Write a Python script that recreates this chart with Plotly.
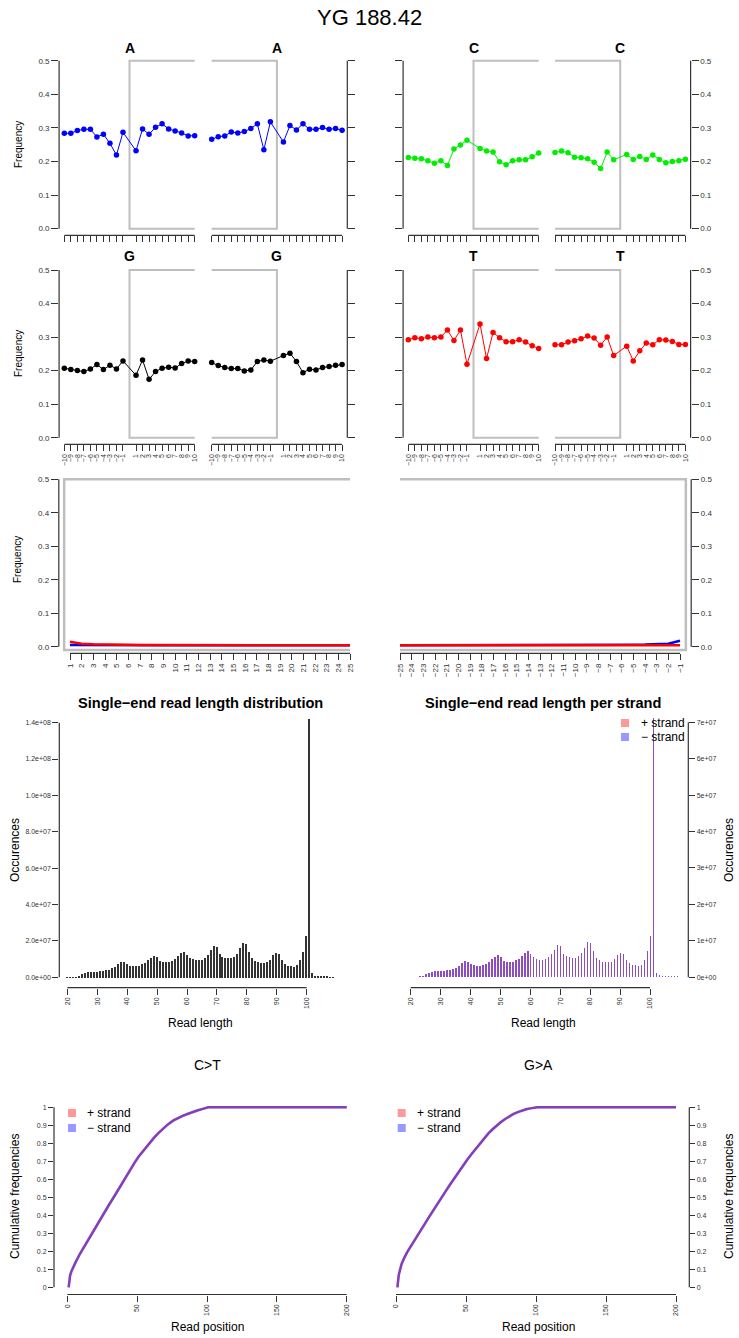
import plotly.graph_objects as go

W, H = 739, 1338
FONT = "Liberation Sans, Arial, Helvetica, sans-serif"
AX = "#333333"
BOXC = "#BEBEBE"

# ---------------- data ----------------
pos = [-10, -9, -8, -7, -6, -5, -4, -3, -2, -1, 1, 2, 3, 4, 5, 6, 7, 8, 9, 10]
pos_labels = ["−10", "−9", "−8", "−7", "−6", "−5", "−4", "−3", "−2", "−1",
              "1", "2", "3", "4", "5", "6", "7", "8", "9", "10"]

A_5p = [0.284, 0.284, 0.292, 0.296, 0.296, 0.273, 0.281, 0.254, 0.219, 0.287,
        0.232, 0.297, 0.281, 0.302, 0.312, 0.297, 0.291, 0.285, 0.276, 0.277]
A_3p = [0.266, 0.274, 0.276, 0.288, 0.285, 0.289, 0.298, 0.312, 0.235, 0.318,
        0.258, 0.307, 0.294, 0.312, 0.296, 0.296, 0.301, 0.296, 0.298, 0.293]
C_5p = [0.212, 0.210, 0.208, 0.202, 0.195, 0.202, 0.188, 0.237, 0.249, 0.263,
        0.239, 0.231, 0.228, 0.199, 0.190, 0.202, 0.205, 0.205, 0.214, 0.225]
C_3p = [0.227, 0.231, 0.226, 0.213, 0.211, 0.208, 0.198, 0.179, 0.228, 0.205,
        0.221, 0.206, 0.215, 0.206, 0.219, 0.206, 0.196, 0.200, 0.202, 0.207]
G_5p = [0.207, 0.203, 0.200, 0.197, 0.205, 0.218, 0.203, 0.216, 0.205, 0.229,
        0.186, 0.232, 0.174, 0.197, 0.207, 0.210, 0.208, 0.221, 0.229, 0.227]
G_3p = [0.224, 0.215, 0.209, 0.206, 0.206, 0.199, 0.202, 0.227, 0.232, 0.228,
        0.245, 0.252, 0.227, 0.194, 0.204, 0.202, 0.209, 0.212, 0.216, 0.218]
T_5p = [0.292, 0.298, 0.295, 0.300, 0.298, 0.300, 0.321, 0.290, 0.321, 0.219,
        0.339, 0.236, 0.314, 0.298, 0.286, 0.286, 0.292, 0.285, 0.274, 0.266]
T_3p = [0.277, 0.277, 0.285, 0.289, 0.295, 0.303, 0.297, 0.276, 0.300, 0.245,
        0.273, 0.229, 0.259, 0.282, 0.277, 0.292, 0.291, 0.287, 0.278, 0.278]

misinc_pos_5p = list(range(1, 26))
misinc_pos_3p = list(range(-25, 0))
misinc_lab_5p = [str(v) for v in misinc_pos_5p]
misinc_lab_3p = ["−" + str(-v) for v in misinc_pos_3p]
CT_5p = [0.015, 0.009, 0.007, 0.006, 0.006, 0.0055, 0.005, 0.005, 0.005, 0.0048,
         0.0046, 0.0045, 0.0044, 0.0044, 0.0043, 0.0043, 0.0042, 0.0042, 0.0042, 0.0041,
         0.0041, 0.0041, 0.004, 0.004, 0.004]
GA_5p = [0.005, 0.0046, 0.0044, 0.0043, 0.0042, 0.0042, 0.0041, 0.0041, 0.004, 0.004,
         0.004, 0.004, 0.004, 0.004, 0.004, 0.004, 0.004, 0.004, 0.004, 0.004,
         0.004, 0.004, 0.004, 0.004, 0.004]
CT_3p = [0.004, 0.004, 0.004, 0.004, 0.004, 0.004, 0.004, 0.004, 0.004, 0.004,
         0.004, 0.004, 0.004, 0.004, 0.004, 0.004, 0.004, 0.004, 0.004, 0.004,
         0.0041, 0.0041, 0.0042, 0.0042, 0.0043]
GA_3p = [0.004, 0.004, 0.004, 0.004, 0.004, 0.004, 0.004, 0.004, 0.004, 0.004,
         0.0042, 0.0043, 0.0044, 0.0045, 0.0045, 0.0047, 0.0049, 0.005, 0.0052, 0.0055,
         0.006, 0.0065, 0.0072, 0.009, 0.018]

read_len = list(range(20, 110))
# occurrences, in units of 1e7
len_total = [0.02, 0.02, 0.02, 0.03, 0.04, 0.18, 0.24, 0.29, 0.31, 0.33,
             0.33, 0.35, 0.37, 0.40, 0.44, 0.50, 0.60, 0.75, 0.88, 0.83,
             0.72, 0.64, 0.62, 0.62, 0.66, 0.72, 0.81, 0.97, 1.10, 1.21,
             1.12, 0.90, 0.84, 0.84, 0.84, 0.92, 1.00, 1.16, 1.34, 1.43,
             1.25, 1.10, 1.00, 0.95, 0.95, 0.99, 1.08, 1.25, 1.49, 1.74,
             1.69, 1.28, 1.14, 1.08, 1.06, 1.06, 1.14, 1.32, 1.61, 1.91,
             1.85, 1.41, 1.06, 0.92, 0.84, 0.81, 0.81, 0.84, 0.97, 1.23,
             1.34, 1.28, 0.95, 0.75, 0.66, 0.64, 0.59, 0.68, 0.95, 1.43,
             2.26, 14.2, 0.24, 0.11, 0.06, 0.05, 0.04, 0.04, 0.03, 0.03]
len_plus = [0.01, 0.01, 0.01, 0.015, 0.02, 0.09, 0.12, 0.145, 0.155, 0.165,
            0.165, 0.175, 0.185, 0.20, 0.22, 0.25, 0.30, 0.375, 0.44, 0.415,
            0.36, 0.32, 0.31, 0.31, 0.33, 0.36, 0.405, 0.485, 0.55, 0.605,
            0.56, 0.45, 0.42, 0.42, 0.42, 0.46, 0.50, 0.58, 0.67, 0.715,
            0.625, 0.55, 0.50, 0.475, 0.475, 0.495, 0.54, 0.625, 0.745, 0.87,
            0.845, 0.64, 0.57, 0.54, 0.53, 0.53, 0.57, 0.66, 0.805, 0.955,
            0.925, 0.705, 0.53, 0.46, 0.42, 0.405, 0.405, 0.42, 0.485, 0.615,
            0.67, 0.64, 0.475, 0.375, 0.33, 0.32, 0.295, 0.34, 0.475, 0.715,
            1.13, 7.1, 0.12, 0.055, 0.03, 0.025, 0.02, 0.02, 0.015, 0.015]
len_minus = [0.01, 0.01, 0.01, 0.015, 0.02, 0.09, 0.12, 0.14, 0.155, 0.16,
             0.165, 0.17, 0.185, 0.20, 0.215, 0.25, 0.30, 0.37, 0.44, 0.41,
             0.36, 0.32, 0.31, 0.31, 0.33, 0.36, 0.40, 0.48, 0.55, 0.60,
             0.56, 0.45, 0.42, 0.42, 0.42, 0.46, 0.50, 0.58, 0.67, 0.71,
             0.625, 0.55, 0.50, 0.475, 0.475, 0.495, 0.54, 0.62, 0.745, 0.865,
             0.845, 0.64, 0.57, 0.54, 0.53, 0.53, 0.57, 0.66, 0.80, 0.95,
             0.92, 0.705, 0.53, 0.46, 0.42, 0.405, 0.405, 0.42, 0.485, 0.61,
             0.67, 0.64, 0.475, 0.375, 0.33, 0.32, 0.295, 0.34, 0.475, 0.71,
             1.13, 7.1, 0.12, 0.055, 0.03, 0.025, 0.02, 0.02, 0.015, 0.015]

CT_cum_pos = [1, 2, 3, 4, 6, 9, 12, 16, 20, 23, 27, 30, 34, 37, 41, 44, 48, 51, 55, 58,
              62, 65, 69, 72, 76, 79, 83, 86, 90, 93, 97, 101, 200]
CT_cum = [0.0, 0.065, 0.09, 0.11, 0.14, 0.185, 0.225, 0.28, 0.33, 0.37, 0.42, 0.46,
          0.51, 0.55, 0.6, 0.64, 0.69, 0.725, 0.765, 0.795, 0.83, 0.855, 0.885, 0.905,
          0.927, 0.94, 0.954, 0.963, 0.975, 0.982, 0.991, 1.0, 1.0]
GA_cum_pos = [1, 2, 3, 4, 6, 8, 12, 15, 18, 21, 24, 27, 30, 33, 36, 39, 42, 45, 48, 51,
              54, 57, 60, 63, 66, 69, 72, 75, 78, 81, 84, 87, 90, 93, 96, 101, 200]
GA_cum = [0.0, 0.07, 0.1, 0.13, 0.165, 0.195, 0.245, 0.285, 0.32, 0.358, 0.395, 0.433,
          0.47, 0.505, 0.54, 0.575, 0.61, 0.645, 0.68, 0.71, 0.74, 0.77, 0.80, 0.828,
          0.855, 0.878, 0.9, 0.918, 0.935, 0.95, 0.963, 0.973, 0.982, 0.989, 0.994, 1.0, 1.0]

freq_ticks = [0, 0.1, 0.2, 0.3, 0.4, 0.5]
freq_ticktext = ["0.0", "0.1", "0.2", "0.3", "0.4", "0.5"]
len_ticks_left = [0, 2, 4, 6, 8, 10, 12, 14]
len_ticktext_left = ["0.0e+00", "2.0e+07", "4.0e+07", "6.0e+07", "8.0e+07",
                     "1.0e+08", "1.2e+08", "1.4e+08"]
len_ticks_right = [0, 1, 2, 3, 4, 5, 6, 7]
len_ticktext_right = ["0e+00", "1e+07", "2e+07", "3e+07", "4e+07", "5e+07", "6e+07", "7e+07"]
len_xticks = [20, 30, 40, 50, 60, 70, 80, 90, 100]
cum_yticks = [0, 0.1, 0.2, 0.3, 0.4, 0.5, 0.6, 0.7, 0.8, 0.9, 1.0]
cum_yticktext = ["0", "0.1", "0.2", "0.3", "0.4", "0.5", "0.6", "0.7", "0.8", "0.9", "1"]
cum_xticks = [0, 50, 100, 150, 200]

# ---------------- helpers ----------------
layout = dict(width=W, height=H, margin=dict(l=0, r=0, t=0, b=0),
              paper_bgcolor="white", plot_bgcolor="white", showlegend=False,
              barmode="overlay", bargap=0, font=dict(family=FONT, color="#000"))
shapes = []
annotations = []
traces = []


def px_x(p):
    return p / W


def px_y(p):
    return 1 - p / H


def base_axis(**kw):
    d = dict(showgrid=False, zeroline=False, showline=False, ticks="outside",
             ticklen=6, tickwidth=1, tickcolor=AX,
             tickfont=dict(size=8, color=AX, family=FONT), fixedrange=True)
    d.update(kw)
    return d


def add_panel(n, xpx, ypx, xr, yr, xopts, yopts):
    xid = "x" if n == 1 else f"x{n}"
    yid = "y" if n == 1 else f"y{n}"
    xa = base_axis(domain=[px_x(xpx[0]), px_x(xpx[1])], range=xr, anchor=yid)
    xa.update(xopts)
    ya = base_axis(domain=[px_y(ypx[1]), px_y(ypx[0])], range=yr, anchor=xid)
    ya.update(yopts)
    layout["xaxis" if n == 1 else f"xaxis{n}"] = xa
    layout["yaxis" if n == 1 else f"yaxis{n}"] = ya
    return xid, yid


def yline(xid, yid, side, y0, y1):
    shapes.append(dict(type="line", xref=f"{xid} domain", yref=yid, x0=side, x1=side,
                       y0=y0, y1=y1, line=dict(color=AX, width=1.2)))


def xline(xid, yid, x0, x1):
    shapes.append(dict(type="line", xref=xid, yref=f"{yid} domain", x0=x0, x1=x1,
                       y0=0, y1=0, line=dict(color=AX, width=1.2)))


def ann(xp, yp, text, size, angle=0, xanchor="center", color="#000"):
    annotations.append(dict(x=px_x(xp), y=px_y(yp), xref="paper", yref="paper",
                            text=text, showarrow=False, textangle=angle,
                            xanchor=xanchor, yanchor="middle",
                            font=dict(size=size, family=FONT, color=color)))


def legend_square(cx, cy, color, s=8):
    shapes.append(dict(type="rect", xref="paper", yref="paper",
                       x0=px_x(cx - s / 2), x1=px_x(cx + s / 2),
                       y0=px_y(cy + s / 2), y1=px_y(cy - s / 2),
                       fillcolor=color, line=dict(width=0)))


# ---------------- rows 1-2: base composition ----------------
sub_x = [(59.1, 199.9), (206.5, 347.3), (403.1, 543.9), (549.8, 690.6)]
row_y = [(54.0, 235.4), (263.3, 444.4)]
row_data = [[(A_5p, "#0000FF"), (A_3p, "#0000FF"), (C_5p, "#00EE00"), (C_3p, "#00EE00")],
            [(G_5p, "#000000"), (G_3p, "#000000"), (T_5p, "#FF0000"), (T_3p, "#FF0000")]]
row_titles = [["A", "A", "C", "C"], ["G", "G", "T", "T"]]

n = 0
for r in range(2):
    for k in range(4):
        n += 1
        side = "left" if k in (0, 2) else "right"
        show_y = (k == 0 or k == 3)
        xopts = dict(tickvals=pos, ticktext=pos_labels, showticklabels=(r == 1),
                     tickangle=-90, tickfont=dict(size=7, color=AX, family=FONT))
        yopts = dict(side=side, tickvals=freq_ticks, ticktext=freq_ticktext,
                     showticklabels=show_y, ticklen=7)
        xid, yid = add_panel(n, sub_x[k], row_y[r], [-10.8, 10.8], [-0.02, 0.52], xopts, yopts)
        vals, col = row_data[r][k]
        traces.append(go.Scatter(x=pos, y=vals, xaxis=xid, yaxis=yid, mode="lines+markers",
                                 line=dict(color=col, width=1),
                                 marker=dict(color=col, size=5.5, line=dict(width=0))))
        if k in (0, 2):
            path = "M 10,0.5 L 0,0.5 L 0,0 L 10,0"
        else:
            path = "M -10,0.5 L 0,0.5 L 0,0 L -10,0"
        shapes.append(dict(type="path", xref=xid, yref=yid, path=path,
                           line=dict(color=BOXC, width=2), layer="below"))
        yline(xid, yid, 0 if side == "left" else 1, 0, 0.5)
        xline(xid, yid, -10, 10)
        cx = (sub_x[k][0] + sub_x[k][1]) / 2
        ann(cx, [48, 256][r], "<b>" + row_titles[r][k] + "</b>", 14)

ann(18, 145, "Frequency", 10, angle=-90)
ann(18, 354, "Frequency", 10, angle=-90)

# ---------------- row 3: misincorporation ----------------
n += 1
xid, yid = add_panel(n, (58.8, 361.2), (472.6, 653.4), [0.04, 25.96], [-0.02, 0.52],
                     dict(tickvals=misinc_pos_5p, ticktext=misinc_lab_5p, tickangle=-90),
                     dict(side="left", tickvals=freq_ticks, ticktext=freq_ticktext, ticklen=7))
shapes.append(dict(type="path", xref=xid, yref=yid,
                   path="M 25,0.5 L 0.5,0.5 L 0.5,-0.01 L 25,-0.01",
                   line=dict(color=BOXC, width=2.5), layer="below"))
traces.append(go.Scatter(x=misinc_pos_5p, y=GA_5p, xaxis=xid, yaxis=yid, mode="lines",
                         line=dict(color="#0000FF", width=2.5)))
traces.append(go.Scatter(x=misinc_pos_5p, y=CT_5p, xaxis=xid, yaxis=yid, mode="lines",
                         line=dict(color="#FF0000", width=2.5)))
yline(xid, yid, 0, 0, 0.5)
xline(xid, yid, 1, 25)

n += 1
xid, yid = add_panel(n, (388.8, 691.2), (472.6, 653.4), [-25.96, -0.04], [-0.02, 0.52],
                     dict(tickvals=misinc_pos_3p, ticktext=misinc_lab_3p, tickangle=-90),
                     dict(side="right", tickvals=freq_ticks, ticktext=freq_ticktext, ticklen=7))
shapes.append(dict(type="path", xref=xid, yref=yid,
                   path="M -25,0.5 L -0.5,0.5 L -0.5,-0.01 L -25,-0.01",
                   line=dict(color=BOXC, width=2.5), layer="below"))
traces.append(go.Scatter(x=misinc_pos_3p, y=GA_3p, xaxis=xid, yaxis=yid, mode="lines",
                         line=dict(color="#0000FF", width=2.5)))
traces.append(go.Scatter(x=misinc_pos_3p, y=CT_3p, xaxis=xid, yaxis=yid, mode="lines",
                         line=dict(color="#FF0000", width=2.5)))
yline(xid, yid, 1, 0, 0.5)
xline(xid, yid, -25, -1)
ann(18, 560, "Frequency", 10, angle=-90)

# ---------------- row 4: read length ----------------
n += 1
xid, yid = add_panel(n, (59.3, 344.9), (708.7, 987.6), [17.3, 112.8], [-0.568, 14.768],
                     dict(tickvals=len_xticks, tickangle=-90, tickfont=dict(size=7, color=AX, family=FONT)),
                     dict(side="left", tickvals=len_ticks_left, ticktext=len_ticktext_left,
                          tickfont=dict(size=7, color=AX, family=FONT)))
traces.append(go.Bar(x=read_len, y=len_total, xaxis=xid, yaxis=yid, width=0.4,
                     marker=dict(color="#333333", line=dict(width=0))))
yline(xid, yid, 0, 0, 14)
xline(xid, yid, 20, 100)
ann(200, 703, "<b>Single−end read length distribution</b>", 14.6)
ann(200, 1023, "Read length", 12)
ann(15, 850, "Occurences", 12, angle=-90)

n += 1
xid, yid = add_panel(n, (402.6, 688.3), (708.3, 987.6), [17.3, 112.8], [-0.284, 7.384],
                     dict(tickvals=len_xticks, tickangle=-90, tickfont=dict(size=7, color=AX, family=FONT)),
                     dict(side="right", tickvals=len_ticks_right, ticktext=len_ticktext_right,
                          tickfont=dict(size=7, color=AX, family=FONT)))
traces.append(go.Bar(x=read_len, y=len_plus, xaxis=xid, yaxis=yid, width=0.5,
                     marker=dict(color="rgba(255,0,0,0.45)", line=dict(width=0))))
traces.append(go.Bar(x=read_len, y=len_minus, xaxis=xid, yaxis=yid, width=0.5,
                     marker=dict(color="rgba(0,0,255,0.45)", line=dict(width=0))))
yline(xid, yid, 1, 0, 7)
xline(xid, yid, 20, 100)
ann(543, 703, "<b>Single−end read length per strand</b>", 14.6)
ann(543, 1023, "Read length", 12)
ann(729, 850, "Occurences", 12, angle=-90)
legend_square(625, 723, "#FF9999")
legend_square(625, 737, "#9999FF")
ann(639, 723, "+ strand", 12, xanchor="left")
ann(639, 737, "− strand", 12, xanchor="left")

# ---------------- row 5: cumulative C>T / G>A ----------------
cum_panels = [((54.0, 360.0), CT_cum_pos, CT_cum, "left", "C>T", 207),
              ((382.7, 689.3), GA_cum_pos, GA_cum, "right", "G>A", 538)]
for xpx, cp, cv, side, title, cx in cum_panels:
    n += 1
    xid, yid = add_panel(n, xpx, (1100.1, 1294.5), [-9.5, 209.5], [-0.04, 1.04],
                         dict(tickvals=cum_xticks, tickangle=-90, tickfont=dict(size=7, color=AX, family=FONT)),
                         dict(side=side, tickvals=cum_yticks, ticktext=cum_yticktext, ticklen=5,
                              tickfont=dict(size=7, color=AX, family=FONT)))
    traces.append(go.Scatter(x=cp, y=cv, xaxis=xid, yaxis=yid, mode="lines",
                             line=dict(color="rgba(255,0,0,0.5)", width=2.5)))
    traces.append(go.Scatter(x=cp, y=cv, xaxis=xid, yaxis=yid, mode="lines",
                             line=dict(color="rgba(0,0,255,0.5)", width=2.5)))
    yline(xid, yid, 0 if side == "left" else 1, 0, 1)
    xline(xid, yid, 0, 200)
    ann(cx, 1065, title, 14)
    ann(cx, 1327, "Read position", 12)

ann(15, 1197, "Cumulative frequencies", 12, angle=-90)
ann(729, 1197, "Cumulative frequencies", 12, angle=-90)
legend_square(72, 1113, "#FF9999")
legend_square(72, 1128, "#9999FF")
ann(85, 1113, "+ strand", 12, xanchor="left")
ann(85, 1128, "− strand", 12, xanchor="left")
legend_square(401.7, 1113, "#FF9999")
legend_square(401.7, 1128, "#9999FF")
ann(414.5, 1113, "+ strand", 12, xanchor="left")
ann(414.5, 1128, "− strand", 12, xanchor="left")

# ---------------- main title ----------------
ann(369.5, 17, "YG 188.42", 22)

layout["shapes"] = shapes
layout["annotations"] = annotations
fig = go.Figure(data=traces, layout=layout)
fig.write_html("out.html", config={"displayModeBar": False},
               post_script="document.body.style.margin='0px';document.body.style.overflow='hidden';")
